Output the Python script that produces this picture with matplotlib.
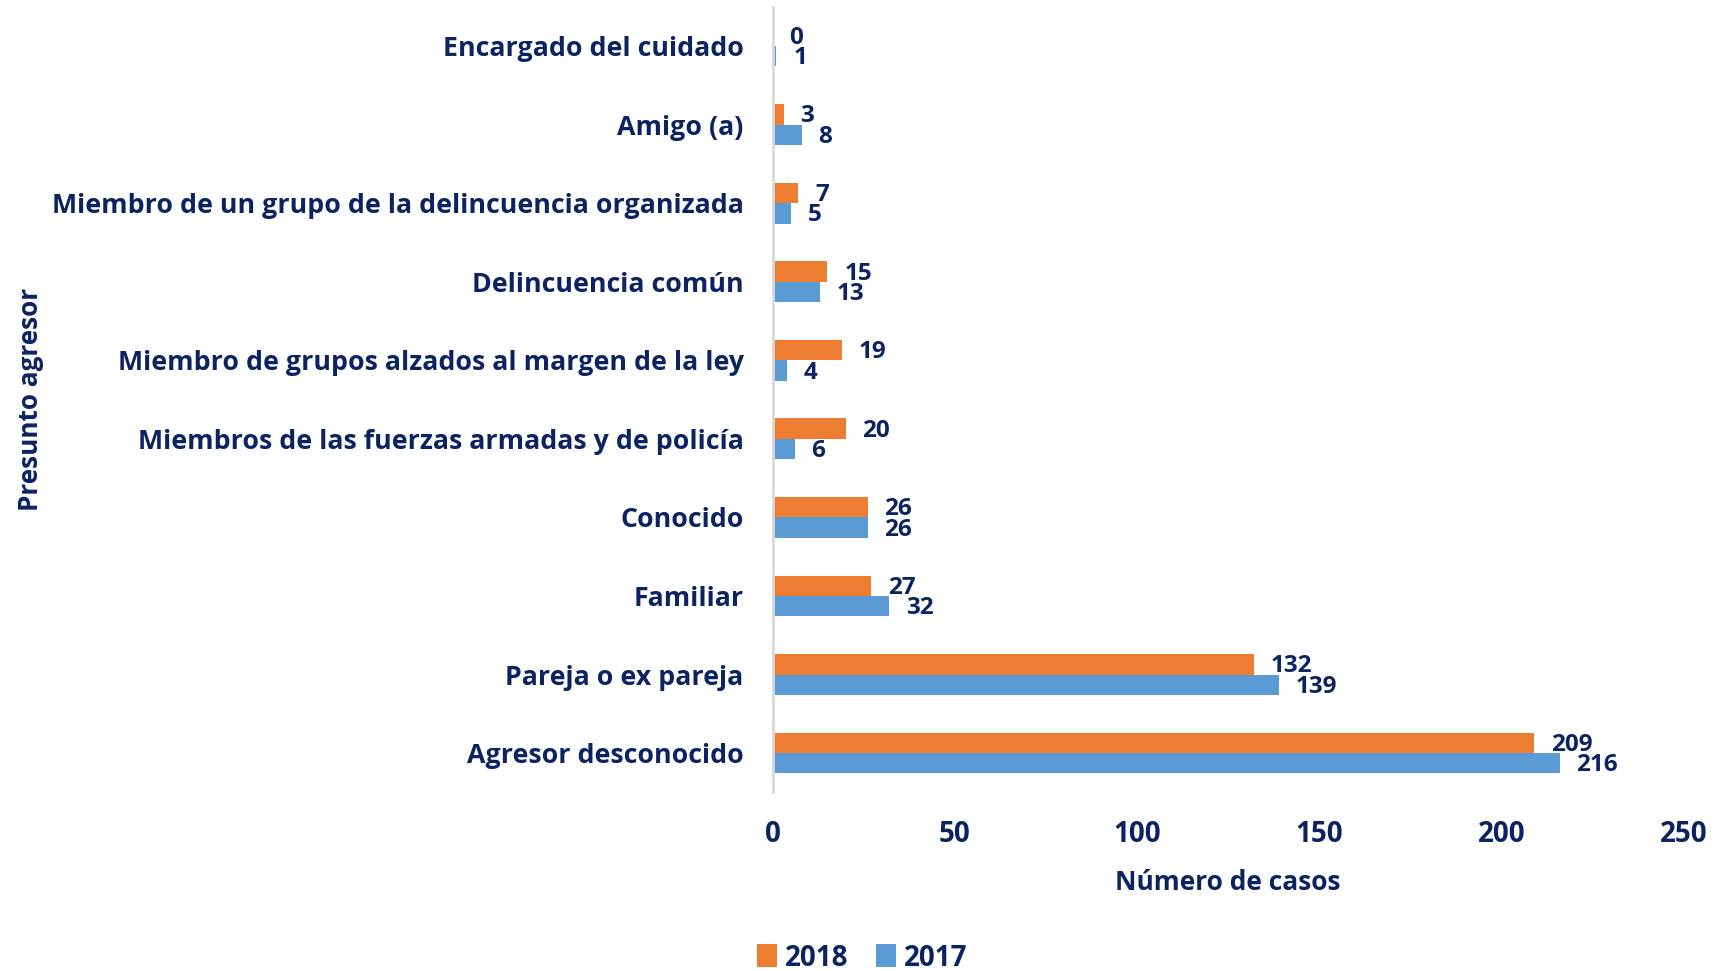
import numpy as np
import matplotlib
matplotlib.use("Agg")
import matplotlib.pyplot as plt

plt.rcParams['font.family'] = ['Open Sans', 'DejaVu Sans']
plt.rcParams['font.weight'] = 'bold'

navy = "#0B2461"

categorias = ["Agresor desconocido", "Pareja o ex pareja", "Familiar", "Conocido",
              "Miembros de las fuerzas armadas y de policía",
              "Miembro de grupos alzados al margen de la ley",
              "Delincuencia común",
              "Miembro de un grupo de la delincuencia organizada",
              "Amigo (a)", "Encargado del cuidado"]
casos_2018 = [209, 132, 27, 26, 20, 19, 15, 7, 3, 0]
casos_2017 = [216, 139, 32, 26, 6, 4, 13, 5, 8, 1]
ticks_x = [0, 50, 100, 150, 200, 250]

fig = plt.figure(figsize=(17.25, 9.71), dpi=100)
ax = fig.add_axes([0.448, 0.184, 0.528, 0.809])

y = np.arange(len(categorias))
h = 0.26
b18 = ax.barh(y + h / 2, casos_2018, height=h, color="#ED7D31", label="2018")
b17 = ax.barh(y - h / 2, casos_2017, height=h, color="#5B9BD5", label="2017")

# etiquetas de valor al final de cada barra
for bars, vals in [(b18, casos_2018), (b17, casos_2017)]:
    for bar, v in zip(bars, vals):
        ax.annotate(str(v), (bar.get_width(), bar.get_y() + bar.get_height() / 2),
                    xytext=(12, -1.5), textcoords="offset points",
                    ha="left", va="center", fontsize=17.5, color=navy, fontweight="bold")

ax.set_xlim(0, 250)
ax.set_ylim(-0.5, len(categorias) - 0.5)
ax.set_xticks(ticks_x)
ax.set_yticks(y)
ax.set_yticklabels(categorias)
ax.tick_params(axis="x", length=0, pad=20, labelsize=20, labelcolor=navy)
ax.tick_params(axis="y", length=0, pad=21, labelsize=19.3, labelcolor=navy)

for s in ["top", "right", "bottom"]:
    ax.spines[s].set_visible(False)
ax.spines["left"].set_color("#D9D9D9")
ax.spines["left"].set_linewidth(2)

ax.set_xlabel("Número de casos", fontsize=19, color=navy, fontweight="bold")
ax.xaxis.set_label_coords(0.5, -0.098)
ax.set_ylabel("Presunto agresor", fontsize=18.8, color=navy, fontweight="bold")
ax.yaxis.set_label_coords(-0.800, 0.5)

leg = fig.legend(handles=[b18, b17], labels=["2018", "2017"], loc="center",
                 bbox_to_anchor=(0.5, 1 - 958 / 971), ncol=2, frameon=False,
                 fontsize=20, handlelength=0.7, handleheight=0.9,
                 handletextpad=0.3, columnspacing=1.0)
for t in leg.get_texts():
    t.set_color(navy)
    t.set_fontweight("bold")

fig.savefig("out.png", dpi=100)
